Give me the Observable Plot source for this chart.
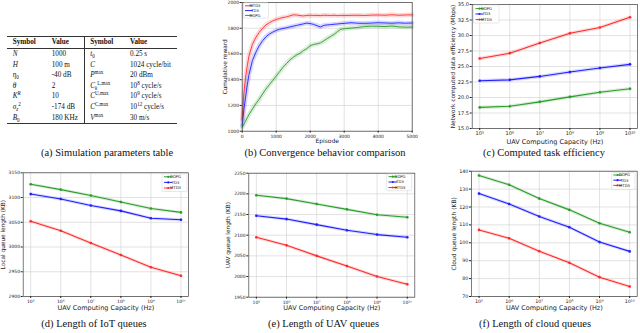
<!DOCTYPE html>
<html><head><meta charset="utf-8">
<script src="https://cdn.jsdelivr.net/npm/d3@7"></script>
<script src="https://cdn.jsdelivr.net/npm/@observablehq/plot@0.6"></script>
<style>
body{margin:0;background:#fff;width:640px;height:333px;overflow:hidden;position:relative;font-family:"DejaVu Sans";}
.panel{position:absolute;}
.cap{position:absolute;font-family:"Liberation Serif";font-size:10.5px;white-space:nowrap;color:#111;transform:translateX(-50%);}
table.params{position:absolute;left:7.3px;top:36px;width:169.4px;border-collapse:collapse;table-layout:fixed;font-family:"Liberation Serif";font-size:7.2px;color:#111;border-top:0.8px solid #333;border-bottom:0.8px solid #333;}
table.params td,table.params th{padding:0 0 0 5.4px;text-align:left;height:10.6px;line-height:10.6px;white-space:nowrap;overflow:visible;}
table.params th{height:11px;border-bottom:0.6px solid #333;font-weight:bold;}
table.params .sep{border-left:0.6px solid #333;}
sub,sup{font-size:70%;line-height:0;}
</style>
</head><body>
<script>
// ---------- data ----------
const tblSymL = ["<i>N</i>","<i>H</i>","<i>η</i><sub>0</sub>","<i>θ</i>","<i>K</i><sup><i>R</i></sup>","<i>σ</i><sub><i>z</i></sub><sup>2</sup>","<i>B</i><sub>0</sub>"];
const tblValL = ["1000","100 m","-40 dB","2","10","-174 dB","180 KHz"];
const tblSymR = ["<i>t</i><sub>0</sub>","<i>C</i>","<i>P</i><sup>max</sup>","<i>C</i><sub><i>k</i></sub><sup>L,max</sup>","<i>C</i><sup>U,max</sup>","<i>C</i><sup>C,max</sup>","<i>V</i><sup>max</sup>"];
const tblValR = ["0.25 s","1024 cycle/bit","20 dBm","10<sup>8</sup> cycle/s","10<sup>9</sup> cycle/s","10<sup>12</sup> cycle/s","30 m/s"];

const episodes = [0,50,100,150,200,300,400,500,600,700,800,900,1000,1100,1200,1300,1400,1500,1600,1700,1800,1900,2000,2100,2200,2300,2400,2500,2600,2700,2800,2900,3000,3200,3400,3600,3800,4000,4200,4400,4600,4800,5000];
const rewardMTD3 = [1090,1300,1420,1510,1585,1675,1728,1768,1800,1826,1843,1857,1868,1876,1884,1888,1896,1904,1903,1898,1896,1899,1901,1899,1900,1898,1901,1900,1899,1901,1898,1900,1899,1900,1901,1899,1902,1903,1901,1905,1901,1903,1904];
const rewardTD3 = [1045,1170,1265,1360,1440,1548,1612,1664,1703,1734,1755,1770,1783,1792,1798,1803,1810,1816,1822,1828,1834,1840,1836,1830,1820,1810,1822,1826,1828,1831,1833,1836,1838,1843,1839,1838,1840,1843,1841,1839,1842,1839,1841];
const rewardDDPG = [1030,1055,1080,1105,1130,1172,1213,1248,1290,1328,1362,1395,1428,1463,1497,1525,1553,1574,1592,1606,1626,1642,1664,1674,1679,1686,1702,1720,1736,1752,1774,1792,1796,1801,1806,1813,1816,1815,1813,1817,1811,1808,1809];

const capacity = [1e5,1e6,1e7,1e8,1e9,1e10];
const effDDPG = [18.4,18.6,19.3,20.1,20.85,21.4];
const effTD3 = [22.7,22.85,23.4,24.1,24.75,25.35];
const effMTD3 = [26.3,27.15,28.8,30.35,31.3,32.95];

const iotDDPG = [3127,3116,3104,3091,3078,3070];
const iotTD3 = [3107,3097,3084,3073,3058,3055];
const iotMTD3 = [3052,3033,3008,2984,2959,2942];

const uavDDPG = [2196.5,2188.5,2175.5,2162.5,2149.5,2143.5];
const uavTD3 = [2147,2139,2125.5,2112,2101.5,2095];
const uavMTD3 = [2095,2075.5,2050,2025.5,2000,1981.5];

const cloudDDPG = [137.6,132.4,124.7,118.4,110.9,105.9];
const cloudTD3 = [127.5,121.7,114.7,108.7,100.4,95.2];
const cloudMTD3 = [107.2,102.5,95.3,88.8,80.8,75.6];

const colors = {DDPG:"#2a9d2a", TD3:"#1f1fff", MTD3:"#ff2a2a"};

// ---------- helpers ----------
const supMap = {"0":"⁰","1":"¹","2":"²","3":"³","4":"⁴","5":"⁵","6":"⁶","7":"⁷","8":"⁸","9":"⁹"};
const logFmt = d => "10" + String(Math.round(Math.log10(d))).split("").map(c => supMap[c]).join("");

function tidy(xs, seriesMap){
  const out = [];
  for (const [name, vals] of Object.entries(seriesMap)) vals.forEach((v,i) => out.push({x: xs[i], y: v, s: name}));
  return out;
}

function addLegend(svg, box, items, markers){
  const g = d3.select(svg).append("g");
  g.append("rect").attr("x", box.x).attr("y", box.y).attr("width", box.w).attr("height", box.h)
    .attr("fill","#fff").attr("fill-opacity",0.85).attr("stroke","#d0d0d0").attr("stroke-width",0.5).attr("rx",0.8);
  items.forEach((it,i) => {
    const yy = box.ey[i];
    g.append("line").attr("x1", box.lx).attr("x2", box.lx + box.ll).attr("y1", yy).attr("y2", yy)
      .attr("stroke", colors[it]).attr("stroke-width", 1);
    if (markers) g.append("circle").attr("cx", box.lx + box.ll/2).attr("cy", yy).attr("r", 1.1).attr("fill", colors[it]);
    g.append("text").attr("x", box.tx).attr("y", yy).attr("dy","0.35em").attr("font-size", 3.8)
      .attr("font-family","DejaVu Sans").attr("fill","#222").text(it);
  });
}

function chart(cfg){
  const svg = Plot.plot({
    width: cfg.w, height: cfg.h,
    marginTop: cfg.mt, marginRight: cfg.mr, marginBottom: cfg.mb, marginLeft: cfg.ml,
    x: cfg.x, y: cfg.y,
    style: {fontFamily: "DejaVu Sans", fontSize: "5px", color: "#222", background: "transparent", overflow: "visible"},
    marks: [
      Plot.gridX(cfg.xTicks, {stroke: "#d6d6d6", strokeOpacity: 1, strokeWidth: 0.7}),
      Plot.gridY(cfg.yTicks, {stroke: "#d6d6d6", strokeOpacity: 1, strokeWidth: 0.7}),
      ...cfg.marks,
      Plot.frame({stroke: "#444", strokeWidth: 0.7}),
      Plot.axisX(cfg.xTicks, {tickFormat: cfg.xFmt, tickSize: 2, tickPadding: 1.2, label: null, fontSize: cfg.tickFont || 5}),
      Plot.axisY(cfg.yTicks, {tickFormat: cfg.yFmt, tickSize: 2, tickPadding: 1.2, label: null, fontSize: cfg.tickFont || 5}),
      Plot.text([cfg.xlabel], {text: d => d, frameAnchor: "bottom", textAnchor: "middle", lineAnchor: "middle", dy: cfg.xdy, fontSize: cfg.xfs || 6.5}),
      Plot.text([cfg.ylabel], {text: d => d, frameAnchor: "left", textAnchor: "middle", lineAnchor: "middle", rotate: -90, dx: -cfg.ydx, fontSize: cfg.yfs || 6})
    ]
  });
  const div = document.createElement("div");
  div.className = "panel";
  div.style.left = cfg.left + "px";
  div.style.top = cfg.top + "px";
  div.appendChild(svg);
  document.body.appendChild(div);
  return svg;
}

function lineMarks(data, withDots, bandW){
  const m = [];
  m.push(Plot.line(data, {x: "x", y: "y", z: "s", stroke: d => colors[d.s], strokeWidth: bandW, strokeOpacity: 0.18}));
  m.push(Plot.line(data, {x: "x", y: "y", z: "s", stroke: d => colors[d.s], strokeWidth: withDots ? 1.1 : 0.9}));
  if (withDots) m.push(Plot.dot(data, {x: "x", y: "y", fill: d => colors[d.s], r: 1.3}));
  return m;
}

const logX = {type: "log", domain: [Math.pow(10,4.75), Math.pow(10,10.25)]};

// ---------- (a) table ----------
{
  let html = '<table class="params"><colgroup><col style="width:39px"><col style="width:38px"><col style="width:40.3px"><col style="width:52.1px"></colgroup>';
  html += '<tr><th>Symbol</th><th>Value</th><th class="sep">Symbol</th><th>Value</th></tr>';
  for (let i = 0; i < tblSymL.length; i++) {
    html += `<tr><td>${tblSymL[i]}</td><td>${tblValL[i]}</td><td class="sep">${tblSymR[i]}</td><td>${tblValR[i]}</td></tr>`;
  }
  html += '</table>';
  document.body.insertAdjacentHTML("beforeend", html);
}

// ---------- (b) convergence ----------
{
  const data = tidy(episodes, {MTD3: rewardMTD3, TD3: rewardTD3, DDPG: rewardDDPG});
  const svg = chart({
    left: 215, top: 0, w: 215, h: 150, mt: 2, mb: 19.3, ml: 26.7, mr: 18.3,
    x: {domain: [0, 5000]}, y: {domain: [1000, 2000]},
    xTicks: [0,1000,2000,3000,4000,5000], yTicks: [1000,1200,1400,1600,1800,2000],
    xFmt: d => String(d), yFmt: d => String(d), tickFont: 4.5,
    marks: lineMarks(data, false, 4.5),
    xlabel: "Episode", xdy: 9.5, xfs: 6,
    ylabel: "Cumulative reward", ydx: 17.5, yfs: 5.8
  });
  addLegend(svg, {x: 28.5, y: 2.8, w: 25, h: 15.3, ey: [5.8, 10.6, 15.4], lx: 30, ll: 7.5, tx: 40}, ["MTD3","TD3","DDPG"], false);
}

// ---------- (c) efficiency ----------
{
  const data = tidy(capacity, {DDPG: effDDPG, TD3: effTD3, MTD3: effMTD3});
  const svg = chart({
    left: 425, top: 0, w: 215, h: 150, mt: 4, mb: 22, ml: 46.7, mr: 3,
    x: logX, y: {domain: [15, 35]},
    xTicks: capacity, yTicks: [15,17.5,20,22.5,25,27.5,30,32.5,35],
    xFmt: logFmt, yFmt: d3.format(".1f"),
    marks: lineMarks(data, true, 3.5),
    xlabel: "UAV Computing Capacity (Hz)", xdy: 13, xfs: 6.5,
    ylabel: "Network computed data efficiency (Mbps)", ydx: 19, yfs: 5.9
  });
  addLegend(svg, {x: 48.5, y: 5, w: 25.5, h: 18, ey: [8.6, 14, 19.6], lx: 50.5, ll: 8, tx: 61.5}, ["DDPG","TD3","MTD3"], true);
}

// ---------- (d) IoT queues ----------
{
  const data = tidy(capacity, {DDPG: iotDDPG, TD3: iotTD3, MTD3: iotMTD3});
  const svg = chart({
    left: 0, top: 160, w: 215, h: 150, mt: 12.3, mb: 14, ml: 22.7, mr: 27,
    x: logX, y: {domain: [2900, 3150]},
    xTicks: capacity, yTicks: [2900,2950,3000,3050,3100,3150],
    xFmt: logFmt, yFmt: d => String(d), tickFont: 4.5,
    marks: lineMarks(data, true, 3),
    xlabel: "UAV Computing Capacity (Hz)", xdy: 11.2, xfs: 6.5,
    ylabel: "Local queue length (KB)", ydx: 20, yfs: 5.8
  });
  addLegend(svg, {x: 162, y: 14, w: 25, h: 17.5, ey: [16.8, 22.4, 28], lx: 164, ll: 8.5, tx: 175.5}, ["DDPG","TD3","MTD3"], true);
}

// ---------- (e) UAV queues ----------
{
  const data = tidy(capacity, {DDPG: uavDDPG, TD3: uavTD3, MTD3: uavMTD3});
  const svg = chart({
    left: 215, top: 160, w: 215, h: 150, mt: 12.7, mb: 13.3, ml: 33.3, mr: 15.7,
    x: logX, y: {domain: [1950, 2250]},
    xTicks: capacity, yTicks: [1950,2000,2050,2100,2150,2200,2250],
    xFmt: logFmt, yFmt: d => String(d), tickFont: 4.5,
    marks: lineMarks(data, true, 3),
    xlabel: "UAV Computing Capacity (Hz)", xdy: 11.2, xfs: 6.5,
    ylabel: "UAV queue length (KB)", ydx: 20.3, yfs: 5.8
  });
  addLegend(svg, {x: 171.7, y: 14, w: 25, h: 16.7, ey: [16.7, 22, 27.5], lx: 173.5, ll: 8.5, tx: 185}, ["DDPG","TD3","MTD3"], true);
}

// ---------- (f) cloud queues ----------
{
  const data = tidy(capacity, {DDPG: cloudDDPG, TD3: cloudTD3, MTD3: cloudMTD3});
  const svg = chart({
    left: 425, top: 160, w: 215, h: 150, mt: 10.7, mb: 14, ml: 46, mr: 3.3,
    x: logX, y: {domain: [70, 140]},
    xTicks: capacity, yTicks: [70,80,90,100,110,120,130,140],
    xFmt: logFmt, yFmt: d => String(d), tickFont: 4.8,
    marks: lineMarks(data, true, 3),
    xlabel: "UAV Computing Capacity (Hz)", xdy: 11.7, xfs: 6.5,
    ylabel: "Cloud queue length (KB)", ydx: 17, yfs: 6
  });
  addLegend(svg, {x: 186.7, y: 12.7, w: 23.3, h: 16.6, ey: [15, 20.2, 25.4], lx: 188.3, ll: 8.5, tx: 199.5}, ["DDPG","TD3","MTD3"], true);
}

// ---------- captions ----------
const captions = [
  ["(a) Simulation parameters table", 107, 147],
  ["(b) Convergence behavior comparison", 325, 147],
  ["(c) Computed task efficiency", 544, 147],
  ["(d) Length of IoT queues", 94, 318],
  ["(e) Length of UAV queues", 323.5, 318],
  ["(f) Length of cloud queues", 535, 318]
];
for (const [t, cx, top] of captions) {
  const d = document.createElement("div");
  d.className = "cap";
  d.style.left = cx + "px";
  d.style.top = top + "px";
  d.textContent = t;
  document.body.appendChild(d);
}
</script>
</body></html>
